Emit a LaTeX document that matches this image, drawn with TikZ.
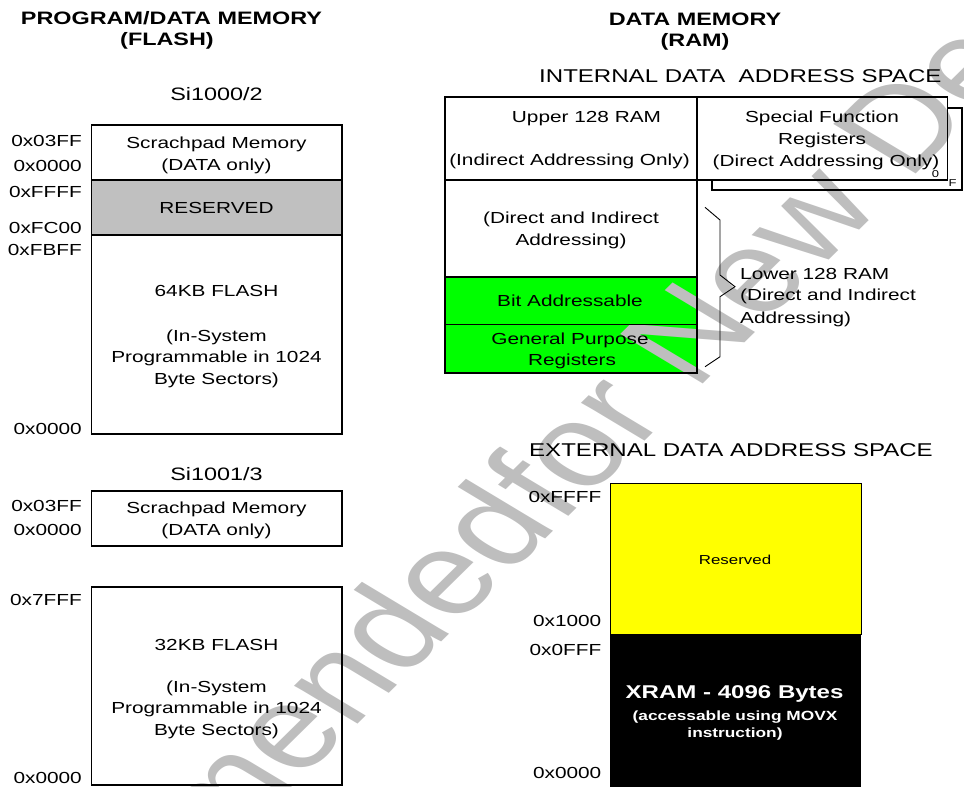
\documentclass[tikz,border=0pt]{standalone}
\usepackage{fontspec}
\setmainfont{Liberation Sans}[FakeStretch=1.3]
\newfontfamily\wmfont{Liberation Sans}
\definecolor{resgray}{HTML}{C0C0C0}
\definecolor{bitgreen}{HTML}{00FF00}
\definecolor{resyellow}{HTML}{FFFF00}
\definecolor{wmgray}{HTML}{BEBEBE}
\begin{document}
\begin{tikzpicture}[x=1pt,y=-1pt,
  t/.style={inner sep=0pt, anchor=base, font=\fontsize{16}{19}\selectfont},
  tl/.style={inner sep=0pt, anchor=base west, font=\fontsize{16}{19}\selectfont},
  adr/.style={inner sep=0pt, anchor=base east, font=\fontsize{16}{19}\selectfont},
  ttl/.style={inner sep=0pt, anchor=base, font=\fontsize{18}{21}\selectfont\bfseries},
  sub/.style={inner sep=0pt, anchor=base, font=\fontsize{18}{21}\selectfont},
  tiny/.style={inner sep=0pt, anchor=base, font=\fontsize{10}{12}\selectfont},
  box/.style={draw=black, line width=1.6pt},
  thin/.style={draw=black, line width=0.9pt},
  wm/.style={inner sep=0pt, text=wmgray, font=\wmfont\fontsize{117}{125}\selectfont, rotate=52, transform shape}
]
\useasboundingbox (0,0) rectangle (964,787);
% ---------- fills ----------
\fill[resgray] (91.5,180) rectangle (342,235);
\fill[bitgreen] (445,277) rectangle (697,373);
\fill[resyellow] (610,483.5) rectangle (861,634);
\fill[black] (610,634) rectangle (861,790);
% ---------- watermark ----------
\begin{scope}[shift={(560,525)}, xscale=1.3]
  \node[wm, anchor=base east] (wm1) at (0,0) {Not Recommended~};
  \node[wm, anchor=base west] (wm2) at (0,0) {for New Designs};
\end{scope}
% ---------- left column boxes ----------
\draw[box] (91.5,125) rectangle (342,434);
\draw[box] (91.5,180) -- (342,180);
\draw[box] (91.5,235) -- (342,235);
\draw[box] (91.5,491) rectangle (342,546);
\draw[box] (91.5,587) rectangle (342,785);
% ---------- internal data space ----------
\draw[box] (947.5,108) -- (962,108) -- (962,190) -- (711.7,190) -- (711.7,180);
\draw[box] (445,97) rectangle (947.5,180);
\draw[box] (697,97) -- (697,373);
\draw[box] (445,180) rectangle (697,373);
\draw[box] (445,277) -- (697,277);
\draw[box] (445,324.5) -- (697,324.5);
\coordinate (b1) at (705,207.3);
\coordinate (b2) at (720,220);
\coordinate (b3) at (720,275);
\coordinate (b4) at (735,286.7);
\coordinate (b5) at (720,296.7);
\coordinate (b6) at (720,356.7);
\coordinate (b7) at (705,366.7);
\draw[thin] (b1) -- (b2) -- (b3) -- (b4) -- (b5) -- (b6) -- (b7);
% ---------- external data space ----------
\draw[thin] (610,483.5) rectangle (861,634);
% ---------- left texts ----------
\node[ttl] (t1) at (171.5,24) {PROGRAM/DATA MEMORY};
\node[ttl] (t2) at (167,45) {(FLASH)};
\node[sub] (s1) at (216.5,100) {Si1000/2};
\node[t] (a1) at (216.5,148) {Scrachpad Memory};
\node[t] (a2) at (216.5,170.5) {(DATA only)};
\node[t] (a3) at (216.5,213) {RESERVED};
\node[t] (a4) at (216.5,296.5) {64KB FLASH};
\node[t] (a5) at (216.5,341) {(In-System};
\node[t] (a6) at (216.5,362.5) {Programmable in 1024};
\node[t] (a7) at (216.5,384) {Byte Sectors)};
\node[adr] (l1) at (82,146) {0x03FF};
\node[adr] (l2) at (82,171.5) {0x0000};
\node[adr] (l3) at (82,197) {0xFFFF};
\node[adr] (l4) at (82,233) {0xFC00};
\node[adr] (l5) at (82,255) {0xFBFF};
\node[adr] (l6) at (82,434) {0x0000};
\node[sub] (s2) at (216.5,480) {Si1001/3};
\node[t] (c1) at (216.5,513) {Scrachpad Memory};
\node[t] (c2) at (216.5,535) {(DATA only)};
\node[t] (c3) at (216.5,650) {32KB FLASH};
\node[t] (c4) at (216.5,692) {(In-System};
\node[t] (c5) at (216.5,713.5) {Programmable in 1024};
\node[t] (c6) at (216.5,735) {Byte Sectors)};
\node[adr] (m1) at (82,511.5) {0x03FF};
\node[adr] (m2) at (82,535) {0x0000};
\node[adr] (m3) at (82,605) {0x7FFF};
\node[adr] (m4) at (82,783) {0x0000};
% ---------- right texts ----------
\node[ttl] (t3) at (695,25) {DATA MEMORY};
\node[ttl] (t4) at (695,46.7) {(RAM)};
\node[inner sep=0pt, anchor=base west, font=\fontsize{18.5}{21}\selectfont] (t5) at (539,82) {INTERNAL DATA~ ADDRESS SPACE};
\node[t] (u1) at (586.5,122) {Upper 128 RAM};
\node[t] (u2) at (569.5,165) {(Indirect Addressing Only)};
\node[t] (f1) at (822,122) {Special Function};
\node[t] (f2) at (822,144) {Registers};
\node[t] (f3) at (826,166) {(Direct Addressing Only)};
\node[tiny] (f4) at (935.5,177) {0};
\node[tiny] (f5) at (952.5,186) {F};
\node[t] (d1) at (571,223) {(Direct and Indirect};
\node[t] (d2) at (571,245) {Addressing)};
\node[t] (d3) at (570,306) {Bit Addressable};
\node[t] (d4) at (570,344) {General Purpose};
\node[t] (d5) at (572,365) {Registers};
\node[tl] (e1) at (740,279) {Lower 128 RAM};
\node[tl] (e2) at (740,300) {(Direct and Indirect};
\node[tl] (e3) at (740,323) {Addressing)};
\node[inner sep=0pt, anchor=base west, font=\fontsize{18.5}{21}\selectfont] (t6) at (529,456) {EXTERNAL DATA ADDRESS SPACE};
\node[inner sep=0pt, anchor=base, font=\fontsize{13}{15}\selectfont] (x1) at (735,564) {Reserved};
\node[adr] (n1) at (601.5,502.7) {0xFFFF};
\node[adr] (n2) at (601.5,626.7) {0x1000};
\node[adr] (n3) at (601.5,655) {0x0FFF};
\node[adr] (n4) at (601.5,778) {0x0000};
\node[inner sep=0pt, anchor=base, text=white, font=\fontsize{18.5}{21}\selectfont\bfseries] (x2) at (734.6,698) {XRAM - 4096 Bytes};
\node[inner sep=0pt, anchor=base, text=white, font=\fontsize{13.3}{15}\selectfont\bfseries] (x3) at (735,720) {(accessable using MOVX};
\node[inner sep=0pt, anchor=base, text=white, font=\fontsize{13.3}{15}\selectfont\bfseries] (x4) at (735,737) {instruction)};
\end{tikzpicture}
\end{document}
